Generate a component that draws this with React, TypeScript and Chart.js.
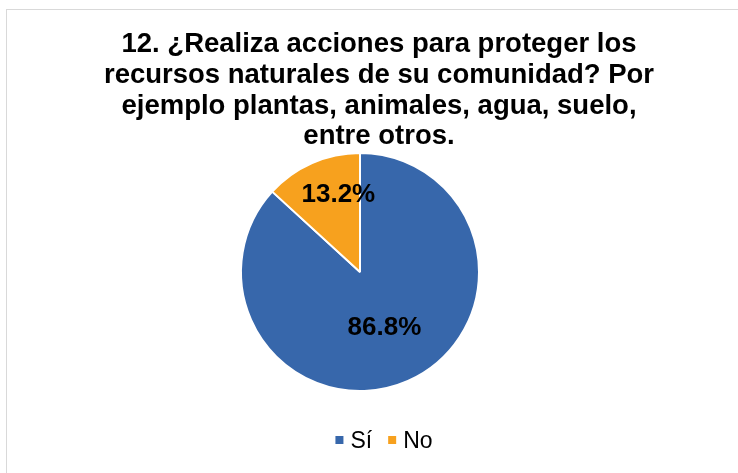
import React, { useEffect, useRef } from "react";
import { Chart, registerables } from "chart.js";

Chart.register(...registerables);

const categories = ["Sí", "No"];
const values = [86.8, 13.2];
const valueLabels = ["86.8%", "13.2%"];
const titleLines = [
  "12. ¿Realiza acciones para proteger los",
  "recursos naturales de su comunidad? Por",
  "ejemplo plantas, animales, agua, suelo,",
  "entre otros.",
];
const colors = ["#3767AB", "#F7A11E"];

const FONT = "'Liberation Sans', Arial, Helvetica, sans-serif";

const titlePlugin = {
  id: "customTitle",
  afterDraw(chart: any) {
    const ctx = chart.ctx as CanvasRenderingContext2D;
    ctx.save();
    ctx.fillStyle = "#000";
    ctx.font = `bold 27.5px ${FONT}`;
    ctx.textAlign = "center";
    ctx.textBaseline = "alphabetic";
    titleLines.forEach((line, i) => {
      ctx.fillText(line, 379, 52 + i * 30.8);
    });
    ctx.restore();
  },
};

const labelFactors = [0.51, 0.66];
const labelNudge = [
  [0, 0],
  [10, -5],
];

const labelPlugin = {
  id: "sliceLabels",
  afterDatasetsDraw(chart: any) {
    const ctx = chart.ctx as CanvasRenderingContext2D;
    const meta = chart.getDatasetMeta(0);
    ctx.save();
    ctx.fillStyle = "#000";
    ctx.font = `bold 26px ${FONT}`;
    ctx.textAlign = "center";
    ctx.textBaseline = "middle";
    meta.data.forEach((arc: any, i: number) => {
      const p = arc.getProps(["x", "y", "startAngle", "endAngle", "outerRadius"], true);
      const mid = (p.startAngle + p.endAngle) / 2;
      const r = p.outerRadius * labelFactors[i];
      const x = p.x + Math.cos(mid) * r + labelNudge[i][0];
      const y = p.y + Math.sin(mid) * r + labelNudge[i][1];
      ctx.fillText(valueLabels[i], x, y);
    });
    ctx.restore();
  },
};

const legendPlugin = {
  id: "customLegend",
  afterDraw(chart: any) {
    const ctx = chart.ctx as CanvasRenderingContext2D;
    ctx.save();
    ctx.font = `23px ${FONT}`;
    ctx.textBaseline = "middle";
    ctx.textAlign = "left";
    const box = 8;
    const gapBoxText = 7;
    const gapItems = 16;
    const widths = categories.map((c) => box + gapBoxText + ctx.measureText(c).width);
    const total = widths.reduce((a, b) => a + b, 0) + gapItems * (categories.length - 1);
    let x = 384 - total / 2;
    const y = 442;
    categories.forEach((c, i) => {
      ctx.fillStyle = colors[i];
      ctx.fillRect(x, y - 2 - box / 2, box, box);
      ctx.fillStyle = "#000";
      ctx.fillText(c, x + box + gapBoxText, y);
      x += widths[i] + gapItems;
    });
    ctx.restore();
  },
};

export default function App() {
  const ref = useRef<HTMLCanvasElement>(null);
  useEffect(() => {
    if (!ref.current) return;
    const chart = new Chart(ref.current, {
      type: "pie",
      data: {
        labels: categories,
        datasets: [
          {
            data: values,
            backgroundColor: colors,
            borderColor: "#ffffff",
            borderWidth: 2,
          },
        ],
      },
      options: {
        animation: false,
        responsive: false,
        maintainAspectRatio: false,
        layout: { padding: { top: 152, bottom: 81, left: 240, right: 258 } },
        plugins: {
          legend: { display: false },
          title: { display: false },
          tooltip: { enabled: false },
        },
      },
      plugins: [titlePlugin, labelPlugin, legendPlugin],
    });
    return () => chart.destroy();
  }, []);
  return (
    <>
      <div
        style={{
          position: "fixed",
          left: 6,
          top: 9,
          width: 800,
          height: 600,
          border: "1px solid #d9d9d9",
          boxSizing: "border-box",
        }}
      />
      <canvas
        ref={ref}
        width={738}
        height={473}
        style={{ position: "fixed", left: 0, top: 0, width: 738, height: 473 }}
      />
    </>
  );
}
